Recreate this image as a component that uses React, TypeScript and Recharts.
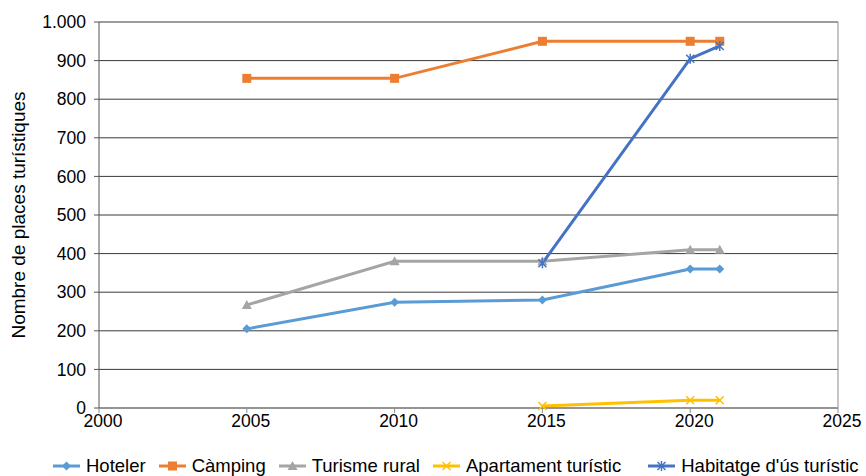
import React from "react";
import {
  LineChart,
  Line,
  XAxis,
  YAxis,
  CartesianGrid,
  Legend,
  ReferenceLine,
} from "recharts";

const years = [2005, 2010, 2015, 2020, 2021];
const hoteler = [205, 274, 280, 360, 360];
const camping = [854, 854, 950, 950, 950];
const turismeRural = [267, 380, 380, 410, 410];
const apartament = [null, null, 5, 20, 20];
const habitatge = [null, null, 375, 905, 938];

const xTicks = [2000, 2005, 2010, 2015, 2020, 2025];
const yTicks = [0, 100, 200, 300, 400, 500, 600, 700, 800, 900, 1000];

const series = [
  { key: "hoteler", name: "Hoteler", color: "#5B9BD5", marker: "diamond", values: hoteler },
  { key: "camping", name: "Càmping", color: "#ED7D31", marker: "square", values: camping },
  { key: "rural", name: "Turisme rural", color: "#A5A5A5", marker: "triangle", values: turismeRural },
  { key: "apart", name: "Apartament turístic", color: "#FFC000", marker: "cross", values: apartament },
  { key: "habit", name: "Habitatge d'ús turístic", color: "#4472C4", marker: "star", values: habitatge },
];

const data = years.map((year, i) => {
  const row: Record<string, number | null> = { year };
  series.forEach((s) => (row[s.key] = s.values[i]));
  return row;
});

const fmt = (v: number) => String(v).replace(/\B(?=(\d{3})+(?!\d))/g, ".");

const FONT = "Liberation Sans, Arial, sans-serif";

function Marker({ type, cx, cy, color }: { type: string; cx: number; cy: number; color: string }) {
  if (type === "diamond")
    return <polygon points={`${cx},${cy - 4.5} ${cx + 4.5},${cy} ${cx},${cy + 4.5} ${cx - 4.5},${cy}`} fill={color} />;
  if (type === "square") return <rect x={cx - 4.5} y={cy - 4.5} width={9} height={9} fill={color} />;
  if (type === "triangle")
    return <polygon points={`${cx},${cy - 5} ${cx + 5},${cy + 4} ${cx - 5},${cy + 4}`} fill={color} />;
  if (type === "cross")
    return (
      <g stroke={color} strokeWidth={1.5}>
        <line x1={cx - 4} y1={cy - 4} x2={cx + 4} y2={cy + 4} />
        <line x1={cx - 4} y1={cy + 4} x2={cx + 4} y2={cy - 4} />
      </g>
    );
  return (
    <g stroke={color} strokeWidth={1.5}>
      <line x1={cx - 4} y1={cy - 4} x2={cx + 4} y2={cy + 4} />
      <line x1={cx - 4} y1={cy + 4} x2={cx + 4} y2={cy - 4} />
      <line x1={cx} y1={cy - 5} x2={cx} y2={cy + 5} />
    </g>
  );
}

const makeDot = (type: string, color: string) => (props: any) => {
  const { cx, cy, key, index } = props;
  if (cy == null || cx == null || isNaN(cy)) return <g key={key ?? index} />;
  return (
    <g key={key ?? index}>
      <Marker type={type} cx={cx} cy={cy} color={color} />
    </g>
  );
};

function LegendContent() {
  return (
    <div
      style={{
        display: "flex",
        boxSizing: "border-box",
        height: 38,
        paddingTop: 18,
        paddingLeft: 53,
        fontFamily: FONT,
        fontSize: 18.5,
        lineHeight: "20px",
        color: "#000",
        whiteSpace: "nowrap",
      }}
    >
      {series.map((s, i) => (
        <div
          key={s.key}
          style={{ display: "flex", alignItems: "center", height: 20, marginRight: i === 3 ? 27 : 13 }}
        >
          <svg width={27} height={12} style={{ marginRight: 6 }}>
            <line x1={0} y1={6} x2={27} y2={6} stroke={s.color} strokeWidth={3} />
            <Marker type={s.marker} cx={13.5} cy={6} color={s.color} />
          </svg>
          <span>{s.name}</span>
        </div>
      ))}
    </div>
  );
}

export default function App() {
  return (
    <div style={{ position: "fixed", top: 0, left: 0, background: "#fff", width: 866, height: 476 }}>
      <LineChart
        width={866}
        height={476}
        data={data}
        margin={{ top: 22, right: 28, bottom: 0, left: 0 }}
        style={{ fontFamily: FONT }}
      >
        <CartesianGrid vertical={false} stroke="#3a3a3a" strokeWidth={1} />
        <XAxis
          dataKey="year"
          type="number"
          domain={[2000, 2025]}
          ticks={xTicks}
          height={30}
          tickSize={5}
          tickMargin={2}
          stroke="#8c8c8c"
          tick={{ fill: "#000", fontSize: 17.5, dx: 4 }}
        />
        <YAxis
          domain={[0, 1000]}
          ticks={yTicks}
          width={99}
          tickSize={5}
          tickMargin={8}
          tickFormatter={fmt}
          stroke="#555"
          tick={{ fill: "#000", fontSize: 17.5 }}
          label={{
            value: "Nombre de places turístiques",
            angle: -90,
            position: "insideLeft",
            offset: 18,
            style: { textAnchor: "middle", fill: "#000", fontSize: 19 },
          }}
        />
        <ReferenceLine x={2025} stroke="#8c8c8c" />
        {series.map((s) => (
          <Line
            key={s.key}
            dataKey={s.key}
            name={s.name}
            stroke={s.color}
            strokeWidth={3}
            dot={makeDot(s.marker, s.color)}
            activeDot={false}
            isAnimationActive={false}
          />
        ))}
        <Legend verticalAlign="bottom" height={38} content={<LegendContent />} />
      </LineChart>
    </div>
  );
}
